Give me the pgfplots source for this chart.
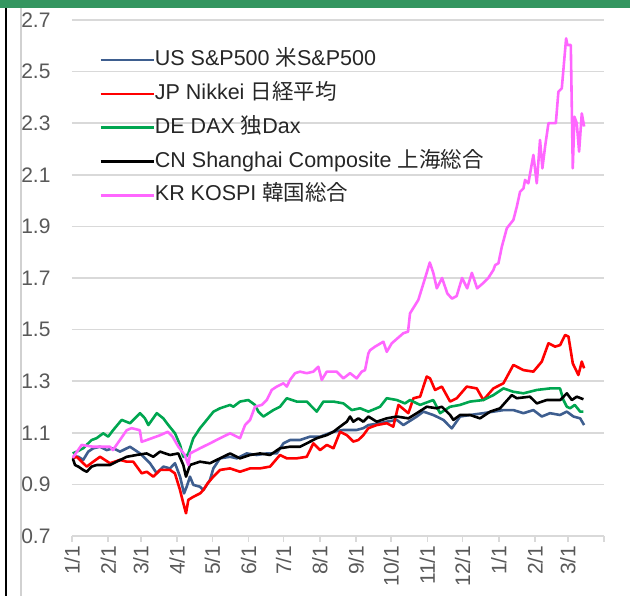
\documentclass[border=0pt]{standalone}
\usepackage{pgfplots}
\pgfplotsset{compat=1.18}
\usepackage{pgfplotstable}
\usepackage{fontspec}
\setmainfont{Liberation Sans}
\newfontfamily\jp{Noto Sans CJK JP}

\definecolor{usblue}{RGB}{62,94,143}
\definecolor{jpred}{RGB}{255,0,0}
\definecolor{degreen}{RGB}{0,166,80}
\definecolor{krpink}{RGB}{255,102,255}
\definecolor{gridgray}{RGB}{217,217,217}
\definecolor{labgray}{RGB}{89,89,89}
\definecolor{bargreen}{RGB}{52,150,96}

% d = days since 1/1, v = index relative to 1/1
\pgfplotstableread{
d v
0.6 1.007
5.4 1.007
9.6 0.995
13.9 1.027
18.2 1.040
24 1.046
29.7 1.033
35.3 1.040
41.1 1.027
49.6 1.046
58.2 1.020
66.7 0.982
72.5 0.943
78.1 0.969
83.8 0.962
88.1 0.982
92.4 0.930
95.8 0.865
98.1 0.891
100.9 0.930
103.8 0.898
109.5 0.891
112.3 0.878
118 0.917
120.9 0.962
126.6 1.001
135.2 1.007
140.9 1.001
149.4 1.020
158 1.014
166.6 1.020
175.1 1.020
180.8 1.059
186.5 1.072
195 1.072
203.6 1.085
212.2 1.085
223.6 1.104
232.1 1.111
243.5 1.111
249.2 1.118
253.5 1.130
263.5 1.137
269.2 1.143
277.8 1.150
283.4 1.130
294.9 1.163
300.5 1.182
309 1.169
317.6 1.150
324.8 1.117
331.9 1.163
340.5 1.169
351.8 1.176
360.4 1.182
369 1.188
377.5 1.188
386.1 1.176
394.6 1.188
401.8 1.163
408.8 1.176
417.4 1.169
423.2 1.182
428.9 1.163
434.6 1.156
438 1.130
}\us

\pgfplotstableread{
d v
0.6 1.001
4 1.007
8.3 0.988
12.6 0.969
18.2 0.988
24 1.007
32.5 0.982
41 0.995
46.8 0.988
52.4 0.988
59.6 0.943
64 0.949
69.5 0.930
75.3 0.956
83.8 0.956
88 0.943
92.4 0.878
95.2 0.827
97.5 0.788
99.5 0.840
103.8 0.852
109.5 0.865
112.3 0.878
116 0.904
120.9 0.930
126.6 0.956
135.2 0.962
143.7 0.949
152.3 0.962
160.8 0.962
169.4 0.969
177.9 1.014
183.7 1.001
192.2 1.001
200.8 1.007
206.4 1.059
212.2 1.033
217.9 1.053
223.6 1.040
229.3 1.104
235 1.091
240.6 1.066
244.9 1.072
249.2 1.091
253.5 1.118
260.6 1.130
269.2 1.137
274.8 1.124
279.2 1.208
287.7 1.176
292 1.234
297.7 1.240
303.4 1.318
306.2 1.311
310.5 1.266
316.3 1.279
323.4 1.221
329.1 1.234
337.6 1.279
346.2 1.272
351.8 1.227
360.4 1.272
369 1.292
377.5 1.363
386.1 1.343
394.6 1.337
401.8 1.376
407.5 1.447
413.2 1.434
417.5 1.440
421.7 1.479
424.6 1.473
428.3 1.369
433.1 1.324
436 1.376
438 1.350
}\jpn

\pgfplotstableread{
d v
0.6 1.020
4 1.027
9.6 1.040
16.8 1.072
21 1.079
26.7 1.098
31 1.085
35.3 1.111
42.5 1.150
49.6 1.137
58.2 1.176
62.4 1.156
65.3 1.130
72.5 1.176
78.1 1.156
82.4 1.130
88.1 1.098
92.4 1.053
95.2 1.007
97.5 1.007
99.5 1.020
103.8 1.079
109.5 1.118
115.3 1.150
121 1.182
126.6 1.195
135.2 1.208
138 1.201
143.7 1.221
150.8 1.227
156.5 1.208
159.4 1.182
163.7 1.163
172.2 1.188
177.9 1.201
183.7 1.234
192.2 1.221
200.8 1.221
209.3 1.182
215 1.221
223.6 1.221
232.1 1.214
239.3 1.188
246.4 1.195
253.5 1.182
263.5 1.201
269.2 1.234
277.8 1.227
284.8 1.214
289.1 1.227
297.7 1.208
309 1.227
314.8 1.176
323.4 1.201
331.9 1.208
340.5 1.221
351.8 1.227
360.4 1.246
369 1.272
377.5 1.259
386.1 1.253
397.5 1.266
408.8 1.272
417.4 1.272
420.3 1.227
423.2 1.201
426 1.195
430 1.208
434.6 1.182
437.4 1.182
}\de

\pgfplotstableread{
d v
0.6 1.001
2.6 0.975
5.4 0.969
9.6 0.956
12.6 0.949
16.8 0.969
21 0.975
32.5 0.975
38.2 0.988
46.8 1.007
55.3 1.014
63.9 1.020
69.5 1.007
75.3 1.027
83.8 1.014
90.9 1.020
95.2 0.975
97.5 0.930
100.9 0.975
109.5 0.988
118 0.982
126.6 1.001
135.2 1.020
143.7 1.001
152.3 1.014
160.8 1.020
169.4 1.014
177.9 1.040
186.5 1.046
195 1.046
200.8 1.059
209.3 1.079
217.9 1.091
223.6 1.104
229.3 1.124
235 1.143
237.8 1.163
240.6 1.143
244.9 1.156
249.2 1.143
253.5 1.163
260.6 1.143
269.2 1.156
277.8 1.163
287.7 1.156
294.9 1.176
303.4 1.201
311.9 1.195
316.3 1.201
323.4 1.169
326.2 1.150
331.9 1.169
340.5 1.169
349 1.156
357.6 1.182
366.1 1.195
376.1 1.246
380.4 1.234
391.7 1.240
397.5 1.214
406 1.227
417.5 1.227
423.2 1.253
427.5 1.227
431.7 1.240
437.4 1.230
}\cn

\pgfplotstableread{
d v
0.6 1.003
8.3 1.053
18 1.046
32.5 1.046
35 1.033
46.8 1.110
51 1.118
58 1.110
59.6 1.065
64 1.072
75 1.090
82 1.104
86 1.085
91 1.046
96.5 1.014
99.5 0.975
101 1.020
109.5 1.040
118 1.059
126.6 1.079
135.2 1.098
143.7 1.079
148 1.130
152.3 1.150
156.5 1.201
162.3 1.208
166.6 1.227
170.8 1.266
175.1 1.279
180.8 1.292
183.7 1.279
186.5 1.305
190.8 1.331
195 1.337
200.8 1.331
206.4 1.337
210.7 1.356
213.6 1.305
217.9 1.337
226.4 1.337
232.1 1.311
237.8 1.331
243.5 1.311
247.8 1.337
250.6 1.343
253.5 1.408
254.9 1.420
259.2 1.434
266.3 1.453
269.2 1.414
273.5 1.447
283.4 1.486
287.4 1.492
289.1 1.563
296.2 1.615
302 1.700
306 1.760
309 1.720
312 1.660
316.5 1.700
321 1.640
325 1.620
329 1.630
333.6 1.700
338 1.660
342 1.720
346.5 1.660
351.6 1.680
356 1.700
360.4 1.731
361.9 1.750
364.7 1.757
367.6 1.821
371.9 1.893
377.5 1.925
380.4 1.976
383.2 2.034
386.1 2.047
387.5 2.080
390.3 2.067
394.6 2.177
397.5 2.067
400.3 2.235
402.3 2.125
404.6 2.209
407.5 2.300
413.8 2.300
416 2.422
418.9 2.435
422.6 2.629
423.7 2.603
426.6 2.603
428.3 2.125
429.7 2.325
431.7 2.300
433.7 2.190
436 2.338
438 2.287
}\kr

\begin{document}
\begin{tikzpicture}[x=1pt,y=1pt]
\useasboundingbox (0,0) rectangle (630,596);
\fill[bargreen] (0,588) rectangle (630,596);
\draw[black!18, line width=1.2pt] (21,0) -- (21,588);
\draw[black, line width=2.5pt] (6,0) -- (6,588);
\begin{axis}[
  at={(72pt,60pt)}, anchor=south west,
  scale only axis, width=532pt, height=516pt,
  xmin=0, xmax=455, ymin=0.7, ymax=2.7,
  enlargelimits=false,
  axis lines*=left,
  x axis line style={draw=gridgray, line width=1.5pt},
  y axis line style={draw=none},
  ymajorgrids=true,
  grid style={draw=gridgray, line width=1.5pt},
  ytick={0.7,0.9,1.1,1.3,1.5,1.7,1.9,2.1,2.3,2.5,2.7},
  yticklabel style={/pgf/number format/fixed, /pgf/number format/fixed zerofill,
    /pgf/number format/precision=1, xshift=-12pt},
  /pgf/number format/assume math mode=true,
  xtick={0,31,59,90,120,151,181,212,243,273,304,334,365,396,424,455},
  xticklabels={1/1,2/1,3/1,4/1,5/1,6/1,7/1,8/1,9/1,10/1,11/1,12/1,1/1,2/1,3/1,{}},
  xticklabel style={rotate=90, anchor=east},
  tick align=outside,
  major tick length=6pt,
  xtick style={draw=gridgray, line width=1.5pt},
  ytick style={draw=none},
  tick label style={font=\fontsize{21}{24}\selectfont, color=labgray},
  legend cell align=left,
  legend image code/.code={\draw[#1] (0pt,0pt) -- (53pt,0pt);},
  legend style={at={(0.051,0.941)}, anchor=north west, draw=none, fill=none,
    font=\fontsize{21.5}{24}\selectfont, text=black!85, inner sep=0pt,
    row sep=14.8pt,
    nodes={inner sep=0pt, text height=15pt, text depth=4pt},
    /tikz/every even column/.append style={column sep=5pt}},
  every axis plot/.append style={line width=2.6pt, line join=round},
]
\addplot[usblue] table[x=d, y=v] {\us};
\addlegendentry{US S\&P500 {\jp 米}S\&P500}
\addplot[jpred] table[x=d, y=v] {\jpn};
\addlegendentry{JP Nikkei {\jp 日経平均}}
\addplot[degreen] table[x=d, y=v] {\de};
\addlegendentry{DE DAX {\jp 独}Dax}
\addplot[black] table[x=d, y=v] {\cn};
\addlegendentry{CN Shanghai Composite {\jp 上海総合}}
\addplot[krpink] table[x=d, y=v] {\kr};
\addlegendentry{KR KOSPI {\jp 韓国総合}}
\end{axis}
\end{tikzpicture}
\end{document}
